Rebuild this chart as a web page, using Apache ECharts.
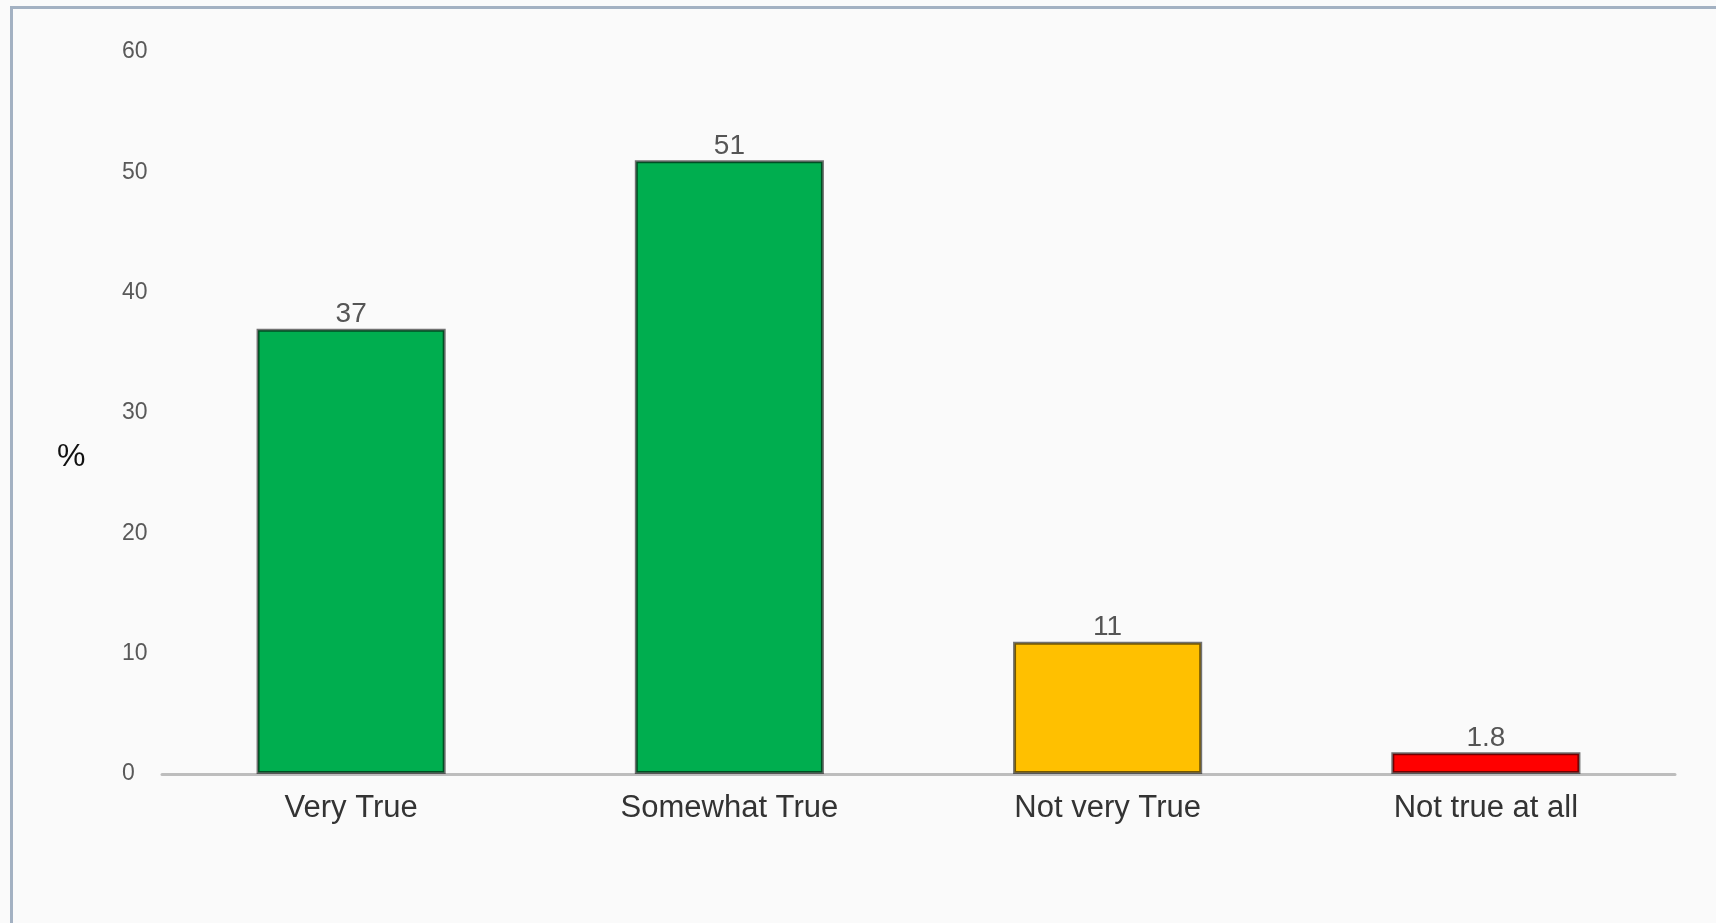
<!DOCTYPE html>
<html>
<head>
<meta charset="utf-8">
<script src="https://cdn.jsdelivr.net/npm/echarts@6/dist/echarts.min.js"></script>
<style>
  html, body { margin: 0; padding: 0; background: #fafafa; }
  #frame { position: absolute; left: 10px; top: 6px; right: 0; bottom: 0;
           border-top: 3px solid #a3b1c2; border-left: 3px solid #a3b1c2; }
  #chart { position: absolute; left: 0; top: 0; width: 1716px; height: 923px; }
</style>
</head>
<body>
<div id="frame"></div>
<div id="chart"></div>
<script>
const categories = ['Very True', 'Somewhat True', 'Not very True', 'Not true at all'];
const values = [37, 51, 11, 1.8];
const valueLabels = ['37', '51', '11', '1.8'];
const barColors = ['#00ae4f', '#00ae4f', '#ffc000', '#ff0000'];
const yTicks = [0, 10, 20, 30, 40, 50, 60];

const chart = echarts.init(document.getElementById('chart'), null, { renderer: 'canvas' });
const font = '"Liberation Sans", Arial, sans-serif';

chart.setOption({
  backgroundColor: 'transparent',
  animation: false,
  grid: { left: 162, right: 41, top: 52, bottom: 149, containLabel: false },
  graphic: [{
    type: 'text', left: 57, top: 441,
    style: { text: '%', fontSize: 32, fontFamily: font, fill: '#111' }
  }],
  xAxis: {
    type: 'category',
    data: categories,
    axisLine: { show: true, lineStyle: { color: '#bdbdbd', width: 3 } },
    axisTick: { show: false },
    axisLabel: { margin: 19, fontSize: 31, fontFamily: font, color: '#333' }
  },
  yAxis: {
    type: 'value',
    min: yTicks[0], max: yTicks[yTicks.length - 1], interval: 10,
    axisLine: { show: false },
    axisTick: { show: false },
    splitLine: { show: false },
    axisLabel: { align: 'left', margin: 40, fontSize: 23, fontFamily: font, color: '#595959', padding: [4, 0, 0, 0] }
  },
  series: [{
    type: 'bar',
    barWidth: '50%',
    data: values.map((v, i) => ({
      value: v,
      itemStyle: { color: barColors[i] },
      label: { formatter: valueLabels[i] }
    })),
    itemStyle: { borderColor: 'rgba(0,0,0,0.55)', borderWidth: 3 },
    label: {
      show: true, position: 'top', distance: 0,
      fontSize: 28, fontFamily: font, color: '#555'
    }
  }]
});
</script>
</body>
</html>
